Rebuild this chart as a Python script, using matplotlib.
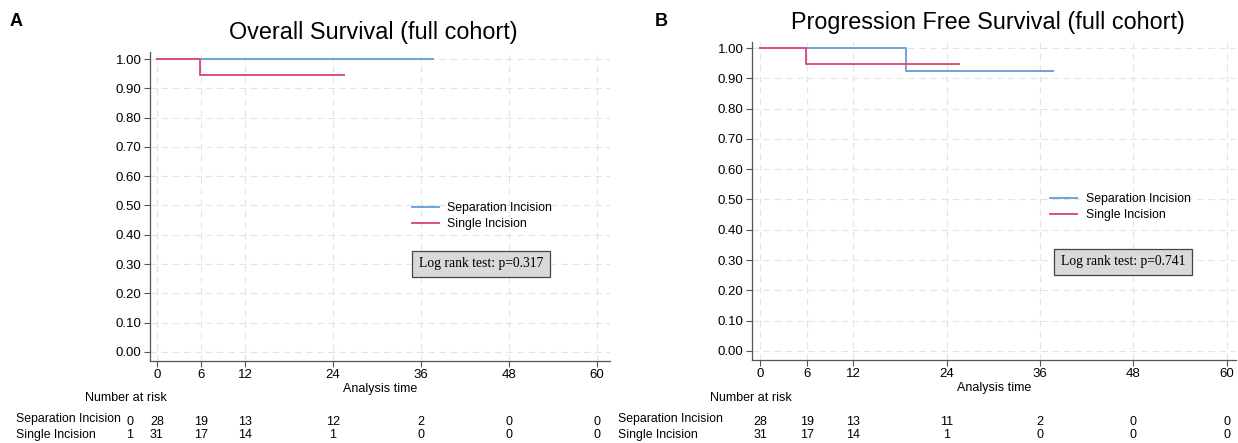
import numpy as np
import matplotlib
matplotlib.use('Agg')
import matplotlib.pyplot as plt
import matplotlib.transforms as mtransforms

plt.rcParams['font.family'] = ['Liberation Sans', 'DejaVu Sans']

# Kaplan-Meier step data (time in months, survival)
os_sep_t = [0, 37.7]
os_sep_s = [1.0, 1.0]
os_single_t = [0, 5.9, 25.5]
os_single_s = [1.0, 0.947, 0.947]

pfs_sep_t = [0, 18.8, 37.7]
pfs_sep_s = [1.0, 0.923, 0.923]
pfs_single_t = [0, 5.9, 25.6]
pfs_single_s = [1.0, 0.947, 0.947]

risk_times = [0, 6, 12, 24, 36, 48, 60]
os_risk_sep = [28, 19, 13, 12, 2, 0, 0]
os_risk_single = [31, 17, 14, 1, 0, 0, 0]
os_extra = ['0', '1']   # odd leading column printed in panel A
pfs_risk_sep = [28, 19, 13, 11, 2, 0, 0]
pfs_risk_single = [31, 17, 14, 1, 0, 0, 0]

xticks = [0, 6, 12, 24, 36, 48, 60]
yticks = np.arange(0, 1.01, 0.1)

blue = '#6fa3dc'
pink = '#df4f80'

W, H = 1238, 443
fig = plt.figure(figsize=(W / 100, H / 100), dpi=100)


def px(x0, y0, x1, y1):
    # pixel box -> figure fraction rect
    return [x0 / W, 1 - y1 / H, (x1 - x0) / W, (y1 - y0) / H]


def km_panel(rect, xlim, ylim, sep, single, title, title_xy, letter, letter_xy,
             leg_anchor, pval, box_xy, risk_sep, risk_single, risk_label_x, extra=None):
    ax = fig.add_axes(rect)
    ax.step(sep[0], sep[1], where='post', color=blue, lw=1.4, label='Separation Incision')
    ax.step(single[0], single[1], where='post', color=pink, lw=1.4, label='Single Incision')
    ax.set_xlim(*xlim)
    ax.set_ylim(*ylim)
    ax.set_xticks(xticks)
    ax.set_yticks(yticks)
    ax.set_yticklabels(['%.2f' % v for v in yticks])
    ax.tick_params(labelsize=9.5, length=4, width=0.8, color='#555555', pad=2)
    ax.grid(True, color='#e4e4e4', linestyle=(0, (6, 4)), lw=0.8)
    ax.set_axisbelow(True)
    for s in ['top', 'right']:
        ax.spines[s].set_visible(False)
    for s in ['left', 'bottom']:
        ax.spines[s].set_color('#555555')
        ax.spines[s].set_linewidth(0.9)
    ax.set_xlabel('Analysis time', fontsize=9, labelpad=1)
    ax.legend(loc='upper left', bbox_to_anchor=leg_anchor, frameon=False,
              fontsize=8.8, handlelength=2.2, handletextpad=0.7, labelspacing=0.35)
    ax.text(box_xy[0] / W, 1 - box_xy[1] / H, 'Log rank test: p=' + pval,
            transform=fig.transFigure, ha='center', va='center',
            family=['Liberation Serif', 'DejaVu Serif'], fontsize=9.8,
            bbox=dict(boxstyle='square,pad=0.5', fc='#d9d9d9', ec='#444444', lw=0.9))
    fig.text(title_xy[0] / W, 1 - title_xy[1] / H, title, ha='center', va='center', fontsize=16.8)
    fig.text(letter_xy[0] / W, 1 - letter_xy[1] / H, letter, ha='left', va='center',
             fontsize=13, fontweight='bold')

    # number at risk table
    tr = mtransforms.blended_transform_factory(ax.transData, fig.transFigure)
    y_head, y_lab, y_sep, y_single = [1 - v / H for v in (398, 419, 422, 435)]
    fig.text(risk_label_x / W, y_head, 'Number at risk', ha='right', va='center', fontsize=9)
    fig.text((rect[0] * W - 134) / W, y_lab, 'Separation Incision', ha='left', va='center', fontsize=8.8)
    fig.text((rect[0] * W - 134) / W, y_single, 'Single Incision', ha='left', va='center', fontsize=8.8)
    for t, a, b in zip(risk_times, risk_sep, risk_single):
        ax.text(t, y_sep, str(a), transform=tr, ha='center', va='center', fontsize=9)
        ax.text(t, y_single, str(b), transform=tr, ha='center', va='center', fontsize=9)
    if extra:
        ax.text(-3.7, y_sep, extra[0], transform=tr, ha='center', va='center', fontsize=9)
        ax.text(-3.7, y_single, extra[1], transform=tr, ha='center', va='center', fontsize=9)
    return ax


km_panel(px(150, 52, 610, 361), (-0.95, 61.8), (-0.031, 1.024),
         (os_sep_t, os_sep_s), (os_single_t, os_single_s),
         'Overall Survival (full cohort)', (373, 33), 'A', (10, 22),
         (0.545, 0.55), '0.317', (481, 264), os_risk_sep, os_risk_single, 167, extra=os_extra)

km_panel(px(752, 42, 1236, 360), (-1.03, 61.2), (-0.03, 1.02),
         (pfs_sep_t, pfs_sep_s), (pfs_single_t, pfs_single_s),
         'Progression Free Survival (full cohort)', (988, 22), 'B', (655, 22),
         (0.594, 0.56), '0.741', (1123, 262), pfs_risk_sep, pfs_risk_single, 792)

fig.savefig('out.png', dpi=100)
